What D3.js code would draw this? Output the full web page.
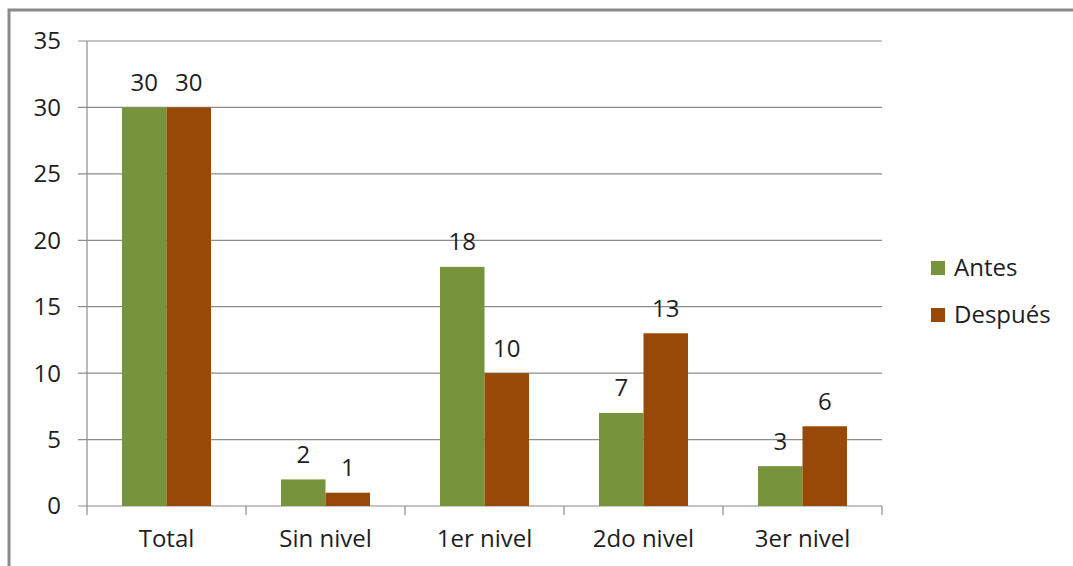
<!DOCTYPE html>
<html>
<head>
<meta charset="utf-8">
<script src="https://d3js.org/d3.v7.min.js"></script>
<style>
  body { margin: 0; background: #fff; }
  text { font-family: "Open Sans", "Lato", sans-serif; fill: #1e1e1e; }
</style>
</head>
<body>
<script>
// chart data
var categories = ["Total", "Sin nivel", "1er nivel", "2do nivel", "3er nivel"];
var antes = [30, 2, 18, 7, 3];
var despues = [30, 1, 10, 13, 6];
var seriesNames = ["Antes", "Después"];
var yTicks = [0, 5, 10, 15, 20, 25, 30, 35];

var width = 1073, height = 566;
var colors = ["#77933C", "#984807"];
var fs = "24px";

var svg = d3.select("body").append("svg")
    .attr("width", width)
    .attr("height", height);

// outer frame
svg.append("rect")
    .attr("x", 9).attr("y", 10)
    .attr("width", 1080).attr("height", 580)
    .attr("fill", "none")
    .attr("stroke", "#8a8a8a")
    .attr("stroke-width", 3);

var pLeft = 87, pRight = 882, pTop = 41, pBottom = 506;

var x = d3.scaleBand().domain(categories).range([pLeft, pRight]);
var y = d3.scaleLinear().domain([0, 35]).range([pBottom, pTop]);

// gridlines + left ticks
svg.selectAll("line.grid").data(yTicks).enter().append("line")
    .attr("x1", pLeft - 9).attr("x2", pRight)
    .attr("y1", function (d) { return y(d); })
    .attr("y2", function (d) { return y(d); })
    .attr("stroke", "#8c8c8c").attr("stroke-width", 1.2);

// y axis line
svg.append("line")
    .attr("x1", pLeft).attr("x2", pLeft)
    .attr("y1", pTop).attr("y2", pBottom)
    .attr("stroke", "#8c8c8c").attr("stroke-width", 1.2);

// x axis ticks
var xt = categories.map(function (c) { return x(c); }).concat([pRight]);
svg.selectAll("line.xtick").data(xt).enter().append("line")
    .attr("x1", function (d) { return d; }).attr("x2", function (d) { return d; })
    .attr("y1", pBottom).attr("y2", pBottom + 9)
    .attr("stroke", "#8c8c8c").attr("stroke-width", 1.2);

// y labels
svg.selectAll("text.ylab").data(yTicks).enter().append("text")
    .attr("x", 61)
    .attr("y", function (d) { return y(d); })
    .attr("dy", "0.35em")
    .attr("text-anchor", "end")
    .style("font-size", fs)
    .text(function (d) { return d; });

// x labels
svg.selectAll("text.xlab").data(categories).enter().append("text")
    .attr("x", function (d) { return x(d) + x.bandwidth() / 2; })
    .attr("y", 539)
    .attr("dy", "0.35em")
    .attr("text-anchor", "middle")
    .style("font-size", fs)
    .text(function (d) { return d; });

// bars
var barW = 44.5;
[antes, despues].forEach(function (vals, s) {
  var g = svg.append("g");
  g.selectAll("rect").data(vals).enter().append("rect")
      .attr("x", function (d, i) { return x(categories[i]) + x.bandwidth() / 2 - barW + s * barW; })
      .attr("y", function (d) { return y(d); })
      .attr("width", barW)
      .attr("height", function (d) { return y(0) - y(d); })
      .attr("fill", colors[s]);
  g.selectAll("text").data(vals).enter().append("text")
      .attr("x", function (d, i) { return x(categories[i]) + x.bandwidth() / 2 - barW / 2 + s * barW; })
      .attr("y", function (d) { return y(d) - 25; })
      .attr("dy", "0.35em")
      .attr("text-anchor", "middle")
      .style("font-size", fs)
      .text(function (d) { return d; });
});

// legend
seriesNames.forEach(function (n, i) {
  var cy = 268 + i * 47;
  svg.append("rect")
      .attr("x", 931).attr("y", cy - 7)
      .attr("width", 14).attr("height", 14)
      .attr("fill", colors[i]);
  svg.append("text")
      .attr("x", 954).attr("y", cy)
      .attr("dy", "0.35em")
      .style("font-size", fs)
      .text(n);
});
</script>
</body>
</html>
